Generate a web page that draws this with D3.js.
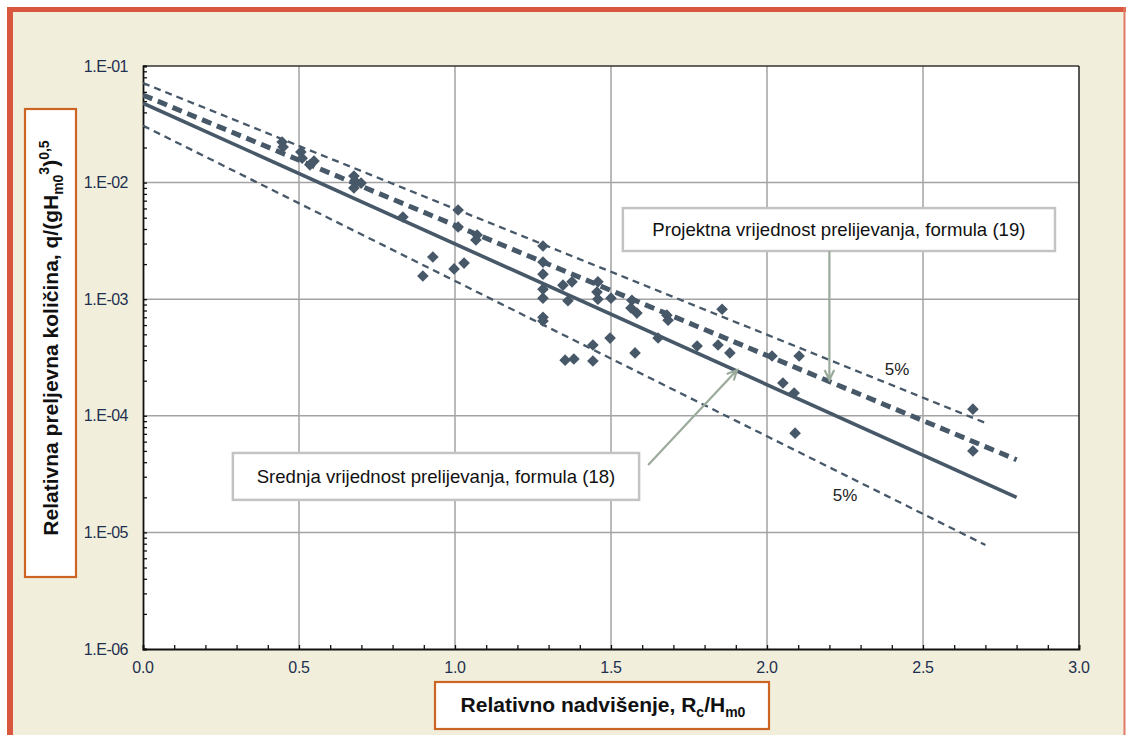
<!DOCTYPE html>
<html><head><meta charset="utf-8">
<script src="https://cdn.jsdelivr.net/npm/d3@7"></script>
<style>body{margin:0;background:#fff}svg{display:block}</style>
</head><body><svg id="c" width="1126" height="735"></svg>
<script>
// ---- data ----
const xTicks = [0, 0.5, 1, 1.5, 2, 2.5, 3];
const xTickLabels = ["0.0", "0.5", "1.0", "1.5", "2.0", "2.5", "3.0"];
const yTicks = [1e-1, 1e-2, 1e-3, 1e-4, 1e-5, 1e-6];
const yTickLabels = ["1.E-01", "1.E-02", "1.E-03", "1.E-04", "1.E-05", "1.E-06"];

const obsX = [0.446,0.449,0.506,0.510,0.535,0.548,0.676,0.679,0.676,0.699,0.833,0.929,0.897,0.997,1.029,1.010,1.010,1.071,1.067,
  1.282,1.282,1.282,1.282,1.282,1.282,1.282,1.346,1.375,1.362,1.353,1.381,1.442,1.442,1.458,1.455,1.458,1.500,1.497,
  1.567,1.564,1.583,1.577,1.679,1.683,1.651,1.776,1.856,1.843,1.881,2.016,2.103,2.051,2.087,2.090,2.660,2.660];
const obsY = [2.23e-2,2.02e-2,1.83e-2,1.62e-2,1.42e-2,1.53e-2,1.14e-2,1.03e-2,9.0e-3,9.9e-3,5.07e-3,2.30e-3,1.58e-3,1.82e-3,2.04e-3,5.82e-3,4.16e-3,3.55e-3,3.22e-3,
  2.86e-3,2.08e-3,1.64e-3,1.22e-3,1.02e-3,7.0e-4,6.5e-4,1.32e-3,1.41e-3,9.7e-4,3.0e-4,3.07e-4,4.05e-4,2.95e-4,1.41e-3,1.15e-3,1.0e-3,1.02e-3,4.64e-4,
  9.8e-4,8.4e-4,7.6e-4,3.46e-4,7.3e-4,6.6e-4,4.65e-4,3.97e-4,8.2e-4,4.05e-4,3.46e-4,3.26e-4,3.26e-4,1.91e-4,1.57e-4,7.1e-5,1.14e-4,4.99e-5];

// line end points (straight on log scale)
const upper5X = [0, 2.7],  upper5Y = [0.0715, 8.7e-5];
const designX = [0, 2.8],  designY = [0.0564, 4.2e-5];
const meanX   = [0, 2.8],  meanY   = [0.048, 2.0e-5];
const lower5X = [0, 2.7],  lower5Y = [0.0308, 7.8e-6];

// annotations (data coordinates)
const designNote = "Projektna vrijednost prelijevanja, formula (19)";
const designBoxX = [1.538, 2.923], designBoxY = [6.05e-3, 2.59e-3];
const designArrowX = [2.2, 2.2], designArrowY = [2.59e-3, 2.03e-4];
const meanNote = "Srednja vrijednost prelijevanja, formula (18)";
const meanBoxX = [0.288, 1.590], meanBoxY = [4.8e-5, 1.9e-5];
const meanArrowX = [1.619, 1.904], meanArrowY = [3.78e-5, 2.47e-4];
const pctLabels = ["5%", "5%"];
const pctX = [2.417, 2.25], pctY = [2.52e-4, 2.09e-5];

// ---- drawing ----
const svg = d3.select("#c");
const W = 1126, H = 735;
const L = 143, T = 66, R = 1079, B = 649;
const x = d3.scaleLinear().domain([0, 3]).range([L, R]);
const y = d3.scaleLog().domain([1e-6, 1e-1]).range([B, T]);
const ink = "#475869";
const labelCol = "#1f2f4f";
const orange = "#cc6424";
const font = "Liberation Sans, Arial, sans-serif";

// page frame
svg.append("rect").attr("x",0).attr("y",0).attr("width",W).attr("height",H).attr("fill","#fff");
svg.append("rect").attr("x",10).attr("y",10).attr("width",1114).attr("height",730).attr("fill","#f1efdc");
svg.append("rect").attr("x",7).attr("y",7).attr("width",1119).attr("height",5).attr("fill","#d9573f");
svg.append("rect").attr("x",7).attr("y",7).attr("width",6).attr("height",728).attr("fill","#d9573f");
svg.append("rect").attr("x",1123.5).attr("y",7).attr("width",2).attr("height",728).attr("fill","#e07a64");

// plot area
svg.append("rect").attr("x",L).attr("y",T).attr("width",R-L).attr("height",B-T).attr("fill","#fff");

// grid
const g = svg.append("g");
g.selectAll("line.gx").data(xTicks.filter(v => v > 0 && v < 3)).join("line")
  .attr("x1", d => x(d)).attr("x2", d => x(d)).attr("y1", T).attr("y2", B)
  .attr("stroke", "#a3a3a3").attr("stroke-width", 1.5);
g.selectAll("line.gy").data(yTicks.filter(v => v < 1e-1 && v > 1e-6)).join("line")
  .attr("y1", d => y(d)).attr("y2", d => y(d)).attr("x1", L).attr("x2", R)
  .attr("stroke", "#a3a3a3").attr("stroke-width", 1.5);

// frame top/right
svg.append("line").attr("x1",L).attr("x2",R).attr("y1",T).attr("y2",T).attr("stroke","#333").attr("stroke-width",1.5);
svg.append("line").attr("x1",R).attr("x2",R).attr("y1",T).attr("y2",B).attr("stroke","#222").attr("stroke-width",1.5);

// axes
const minorX = d3.range(0, 31).map(i => i / 10);
const xAxis = d3.axisBottom(x).tickValues(minorX).tickSize(-4).tickFormat("");
svg.append("g").attr("transform", `translate(0,${B})`).call(xAxis)
  .call(s => s.select(".domain").attr("stroke","#111").attr("stroke-width",1.8))
  .call(s => s.selectAll(".tick line").attr("stroke","#111").attr("stroke-width",1.3));
svg.append("g").selectAll("text").data(xTicks).join("text")
  .attr("x", d => x(d)).attr("y", B + 24).attr("text-anchor","middle")
  .attr("font-family",font).attr("font-size",16).attr("letter-spacing",-0.3)
  .attr("fill",labelCol).text((d,i) => xTickLabels[i]);

const minorY = [];
for (let e = -6; e < -1; e++) for (let m = 1; m < 10; m++) minorY.push(m * Math.pow(10, e));
minorY.push(1e-1);
const yAxis = d3.axisLeft(y).tickValues(minorY).tickSize(-4).tickFormat("");
svg.append("g").attr("transform", `translate(${L},0)`).call(yAxis)
  .call(s => s.select(".domain").attr("stroke","#111").attr("stroke-width",1.8))
  .call(s => s.selectAll(".tick line").attr("stroke","#111").attr("stroke-width",1.3));
svg.append("g").selectAll("text").data(yTicks).join("text")
  .attr("x", L - 15).attr("y", d => y(d)).attr("dy","0.35em").attr("text-anchor","end")
  .attr("font-family",font).attr("font-size",16).attr("letter-spacing",-0.5)
  .attr("fill",labelCol).text((d,i) => yTickLabels[i]);

// lines
const lineGen = d3.line().x(d => x(d[0])).y(d => y(d[1]));
const zip = (a, b) => a.map((v, i) => [v, b[i]]);
svg.append("clipPath").attr("id","pc").append("rect").attr("x",L).attr("y",T).attr("width",R-L).attr("height",B-T);
const lg = svg.append("g").attr("clip-path","url(#pc)");
lg.append("path").attr("d", lineGen(zip(upper5X, upper5Y))).attr("fill","none").attr("stroke",ink).attr("stroke-width",2.3).attr("stroke-dasharray","7,5");
lg.append("path").attr("d", lineGen(zip(lower5X, lower5Y))).attr("fill","none").attr("stroke",ink).attr("stroke-width",2.3).attr("stroke-dasharray","7,5");
lg.append("path").attr("d", lineGen(zip(designX, designY))).attr("fill","none").attr("stroke",ink).attr("stroke-width",5).attr("stroke-dasharray","10,6");
lg.append("path").attr("d", lineGen(zip(meanX, meanY))).attr("fill","none").attr("stroke",ink).attr("stroke-width",3.6);

// points
const diamond = d3.symbol().type(d3.symbolSquare).size(68);
lg.selectAll("path.pt").data(zip(obsX, obsY)).join("path")
  .attr("class","pt").attr("d", diamond)
  .attr("transform", d => `translate(${x(d[0])},${y(d[1])}) rotate(45)`)
  .attr("fill", ink);

// annotation boxes
function noteBox(bx, by, txt) {
  const x0 = x(bx[0]), x1 = x(bx[1]), y0 = y(by[0]), y1 = y(by[1]);
  svg.append("rect").attr("x",x0).attr("y",y0).attr("width",x1-x0).attr("height",y1-y0)
    .attr("fill","#fff").attr("stroke","#c3c3c3").attr("stroke-width",2.5);
  svg.append("text").attr("x",(x0+x1)/2).attr("y",(y0+y1)/2).attr("dy","0.36em")
    .attr("text-anchor","middle").attr("font-family",font).attr("font-size",18.6)
    .attr("fill","#111").text(txt);
}
noteBox(designBoxX, designBoxY, designNote);
noteBox(meanBoxX, meanBoxY, meanNote);

function arrow(ax, ay) {
  const x0 = x(ax[0]), y0 = y(ay[0]), x1 = x(ax[1]), y1 = y(ay[1]);
  const ang = Math.atan2(y1 - y0, x1 - x0);
  const hl = 11, ha = 0.45;
  const p = d3.path();
  p.moveTo(x0, y0); p.lineTo(x1, y1);
  p.moveTo(x1 - hl*Math.cos(ang - ha), y1 - hl*Math.sin(ang - ha)); p.lineTo(x1, y1);
  p.lineTo(x1 - hl*Math.cos(ang + ha), y1 - hl*Math.sin(ang + ha));
  svg.append("path").attr("d", p.toString()).attr("fill","none")
    .attr("stroke","#9aab9c").attr("stroke-width",2.2);
}
arrow(designArrowX, designArrowY);
arrow(meanArrowX, meanArrowY);

svg.append("g").selectAll("text").data(pctLabels).join("text")
  .attr("x",(d,i)=>x(pctX[i])).attr("y",(d,i)=>y(pctY[i])).attr("dy","0.35em")
  .attr("text-anchor","middle").attr("font-family",font).attr("font-size",17)
  .attr("fill","#222").text(d=>d);

// axis titles
svg.append("rect").attr("x",435).attr("y",682).attr("width",334).attr("height",47)
  .attr("fill","#fff").attr("stroke",orange).attr("stroke-width",2.2);
const xt = svg.append("text").attr("x",603).attr("y",712).attr("text-anchor","middle")
  .attr("font-family",font).attr("font-weight","bold").attr("font-size",21).attr("fill","#111");
xt.append("tspan").text("Relativno nadvišenje, R");
xt.append("tspan").attr("font-size",14).attr("dy",5).text("c");
xt.append("tspan").attr("dy",-5).text("/H");
xt.append("tspan").attr("font-size",14).attr("dy",5).text("m0");

svg.append("rect").attr("x",25).attr("y",109).attr("width",51).attr("height",468)
  .attr("fill","#fff").attr("stroke",orange).attr("stroke-width",2.2);
const yt = svg.append("text").attr("transform","translate(58,338) rotate(-90)").attr("text-anchor","middle")
  .attr("font-family",font).attr("font-weight","bold").attr("font-size",21).attr("fill","#111");
yt.append("tspan").text("Relativna preljevna količina, q/(gH");
yt.append("tspan").attr("font-size",14).attr("dy",5).text("m0");
yt.append("tspan").attr("font-size",14).attr("dy",-14).text("3");
yt.append("tspan").attr("dy",9).text(")");
yt.append("tspan").attr("font-size",14).attr("dy",-9).text("0,5");
</script></body></html>
